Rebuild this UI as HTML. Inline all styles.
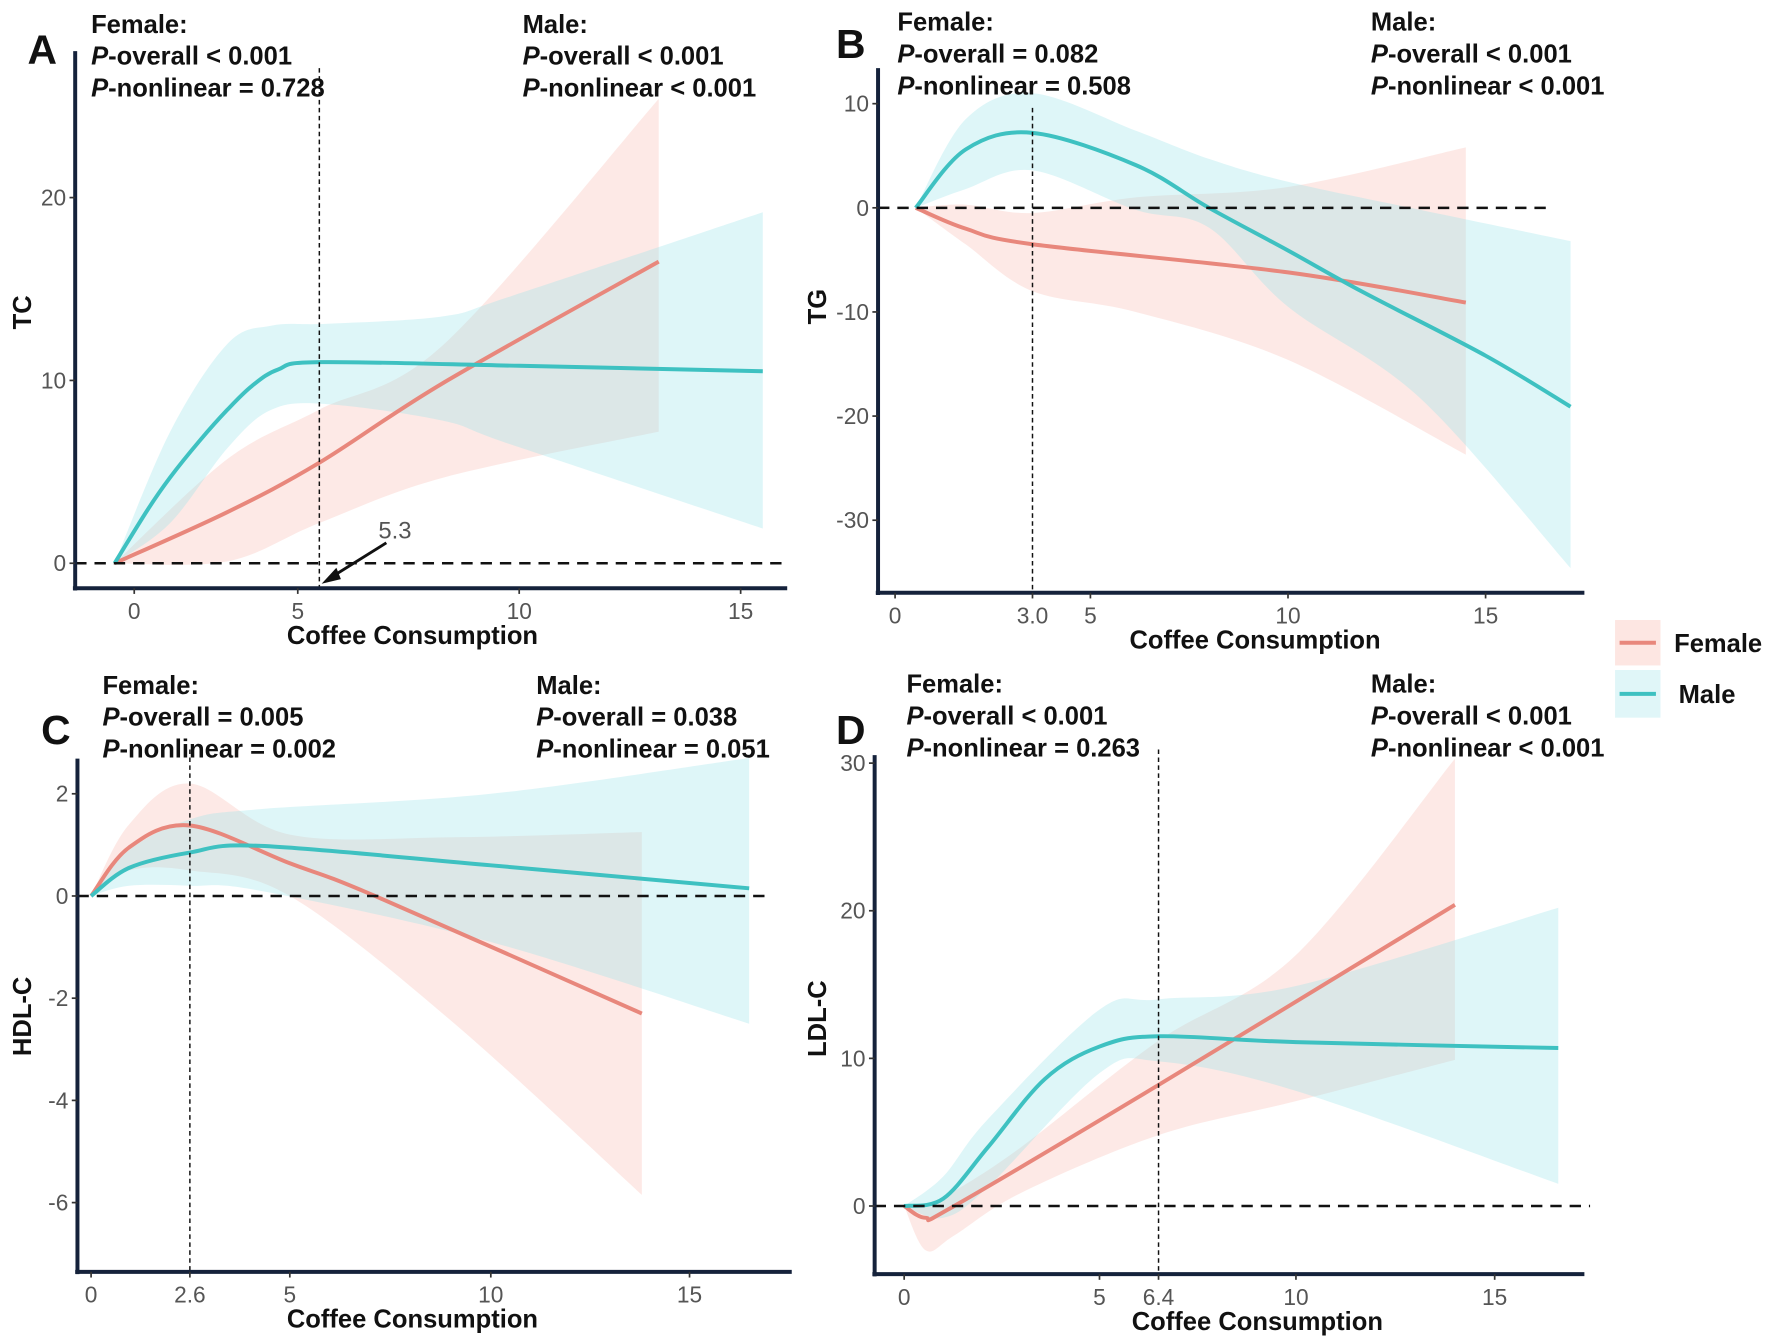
<!DOCTYPE html>
<html><head><meta charset="utf-8"><style>
html,body{margin:0;padding:0;background:#fff}
svg{display:block}
text{font-family:"Liberation Sans",Arial,sans-serif}
.t{font-weight:bold;font-size:22.5px;fill:#111}
.tick{font-size:20px;fill:#555}
</style></head><body>
<svg id="chart" width="1772" height="1340" viewBox="0 0 1560 1180" xmlns="http://www.w3.org/2000/svg"></svg>
<script>
// ---- Panel A (TC) ----
const aMaleX=[-0.6,0.4,1.1,2.0,2.85,3.6,4.4,5.3,10,15.5];
const aMaleY=[0,2.9,4.7,6.7,8.4,9.7,10.6,11.0,10.8,10.5];
const aMaleBandX=[-0.6,1.1,2.85,4.2,5.5,8.2,9.8,15.5];
const aMaleUp=[0,7.2,12.0,13.0,13.1,13.5,14.6,19.2];
const aMaleLo=[0,2.2,6.3,8.4,8.7,7.8,6.5,1.9];
const aFemX=[-0.6,2.85,5.3,8.24,13.15];
const aFemY=[0,2.8,5.5,9.9,16.5];
const aFemUp=[0,5.7,8.4,12,25.4];
const aFemLo=[0,0.1,2.2,4.7,7.2];
const aXTicks=[0,5,10,15];
const aYTicks=[0,10,20];
// ---- Panel B (TG) ----
const bMaleX=[0.45,1.54,3,6.15,8,10,11.9,15,17.15];
const bMaleY=[0,5.6,7.2,4.1,0,-4.1,-8.1,-14.2,-19.1];
const bMaleBandX=[0.45,1.54,3,6.15,8,10,13.35,17.15];
const bMaleUp=[0,8.5,11.0,7.4,4.7,2.5,-0.2,-3.2];
const bMaleLo=[0,1.8,3.6,-0.2,-1.9,-9.5,-18.3,-34.6];
const bFemX=[0.45,1.54,3,10,14.5];
const bFemY=[0,-2.0,-3.5,-6.2,-9.1];
const bFemBandX=[0.45,1.54,3,6.15,10,14.5];
const bFemUp=[0,0.3,-0.5,1.0,2.0,5.8];
const bFemLo=[0,-3.5,-8.0,-10,-14.6,-23.7];
const bXTicks=[0,3,5,10,15];
const bXTickLabels=["0","3.0","5","10","15"];
const bYTicks=[10,0,-10,-20,-30];
// ---- Panel C (HDL-C) ----
const cMaleX=[0,1,2.6,4.3,10,16.5];
const cMaleY=[0,0.55,0.85,0.98,0.6,0.15];
const cMaleUp=[0,0.9,1.5,1.7,2.0,2.7];
const cMaleLo=[0,0.2,0.2,0.1,-0.9,-2.5];
const cFemX=[0,1,2.6,5,7.12,13.8];
const cFemY=[0,0.95,1.38,0.64,0,-2.3];
const cFemBandX=[0,1,2.6,5,9.1,13.8];
const cFemUp=[0,1.4,2.2,1.2,1.15,1.25];
const cFemLo=[0,0.5,0.5,0,-2.5,-5.85];
const cXTicks=[0,2.6,5,10,15];
const cXTickLabels=["0","2.6","5","10","15"];
const cYTicks=[2,0,-2,-4,-6];
// ---- Panel D (LDL-C) ----
const dMaleX=[0,1,2.15,3.6,5,6.4,10,16.6];
const dMaleY=[0,0.5,4.0,8.6,10.8,11.5,11.1,10.7];
const dMaleBandX=[0,1,2.15,5,6.4,10,16.6];
const dMaleUp=[0,2,5.9,13.3,14.0,14.9,20.2];
const dMaleLo=[0,-0.8,1.3,9.0,9.8,7.8,1.5];
const dFemX=[0,0.55,1.28,6.4,14];
const dFemY=[0,-0.8,0,8.2,20.4];
const dFemBandX=[0,0.55,1.28,3,6.4,10,14];
const dFemUp=[0,0,1.0,4.0,11.2,17,30.3];
const dFemLo=[0,-3,-2.0,0.9,4.8,7.1,9.9];
const dXTicks=[0,5,6.4,10,15];
const dXTickLabels=["0","5","6.4","10","15"];
const dYTicks=[30,20,10,0];

const NS="http://www.w3.org/2000/svg";
const svg=document.getElementById('chart');
function el(tag,attrs,parent){const e=document.createElementNS(NS,tag);for(const k in attrs)e.setAttribute(k,attrs[k]);(parent||svg).appendChild(e);return e;}
function pw(knotsV,knotsP){return v=>{let n=knotsV.length;if(v<=knotsV[0])return knotsP[0]+(v-knotsV[0])*(knotsP[1]-knotsP[0])/(knotsV[1]-knotsV[0]);
 for(let i=0;i<n-1;i++){if(v<=knotsV[i+1])return knotsP[i]+(v-knotsV[i])*(knotsP[i+1]-knotsP[i])/(knotsV[i+1]-knotsV[i]);}
 return knotsP[n-2]+(v-knotsV[n-2])*(knotsP[n-1]-knotsP[n-2])/(knotsV[n-1]-knotsV[n-2]);};}
function lin(v0,p0,v1,p1){return v=>p0+(v-v0)*(p1-p0)/(v1-v0);}
function smooth(pts){let d="M"+pts[0][0]+","+pts[0][1];for(let i=0;i<pts.length-1;i++){const p0=pts[Math.max(i-1,0)],p1=pts[i],p2=pts[i+1],p3=pts[Math.min(i+2,pts.length-1)];
 const c1=[p1[0]+(p2[0]-p0[0])/6,p1[1]+(p2[1]-p0[1])/6],c2=[p2[0]-(p3[0]-p1[0])/6,p2[1]-(p3[1]-p1[1])/6];
 d+=" C"+c1[0]+","+c1[1]+" "+c2[0]+","+c2[1]+" "+p2[0]+","+p2[1];}return d;}
function band(g,xs,up,lo,sx,sy,fill,op,name){const u=xs.map((x,i)=>[sx(x),sy(up[i])]);const l=xs.map((x,i)=>[sx(x),sy(lo[i])]).reverse();
 let d=smooth(u)+" L"+l[0][0]+","+l[0][1]+smooth(l).replace(/^M[^C]*/," ")+" Z";
 const p=el('path',{d:d,fill:fill,'fill-opacity':op,stroke:'none'},g);
 
 }
function line(g,xs,ys,sx,sy,col,name){const p=el('path',{d:smooth(xs.map((x,i)=>[sx(x),sy(ys[i])])),fill:'none',stroke:col,'stroke-width':3.5},g);
 
 }
function txt(g,x,y,s,cls,extra){const t=el('text',Object.assign({x:x,y:y,class:cls},extra||{}),g);t.textContent=s;return t;}
function ptext(g,x,y,lines){lines.forEach((l,i)=>{const t=el('text',{x:x,y:y+i*28,class:'t'},g);
 if(l.startsWith('P-')){const ts=el('tspan',{'font-style':'italic'},t);ts.textContent='P';const r=el('tspan',{},t);r.textContent=l.slice(1);}else t.textContent=l;});}

function panel(cfg){
 const g=el('g',{});
 
 
 const {sx,sy}=cfg;
 band(g,cfg.fbx,cfg.fu,cfg.fl,sx,sy,'#f9a99d',0.25,'female-ci-band');
 band(g,cfg.mbx,cfg.mu,cfg.ml,sx,sy,'#9be4ea',0.33,'male-ci-band');
 line(g,cfg.fx,cfg.fy,sx,sy,'#e8877c','female-curve');
 line(g,cfg.mx,cfg.my,sx,sy,'#3ec1c1','male-curve');
 const z=el('line',{x1:cfg.ax,x2:cfg.zx2,y1:sy(0),y2:sy(0),stroke:'#111','stroke-width':2.2,'stroke-dasharray':'10,7'},g);
 
 
 const v=el('line',{x1:sx(cfg.vx),x2:sx(cfg.vx),y1:cfg.vy1,y2:cfg.by,stroke:'#111','stroke-width':1.3,'stroke-dasharray':'4,3'},g);
 
 
 const ya=el('line',{x1:cfg.ax,x2:cfg.ax,y1:cfg.ty,y2:cfg.by+2,stroke:'#15223b','stroke-width':3.5},g);
 
 
 const xa=el('line',{x1:cfg.ax-2,x2:cfg.rx,y1:cfg.by,y2:cfg.by,stroke:'#15223b','stroke-width':3.5},g);
 
 
 cfg.xt.forEach((t,i)=>{el('line',{x1:sx(t),x2:sx(t),y1:cfg.by,y2:cfg.by+5,stroke:'#333','stroke-width':1.5},g);
  const tt=txt(g,sx(t),cfg.by+27,cfg.xl?cfg.xl[i]:String(t),'tick',{'text-anchor':'middle'});
  
  });
 cfg.yt.forEach(t=>{el('line',{x1:cfg.ax-5,x2:cfg.ax,y1:sy(t),y2:sy(t),stroke:'#333','stroke-width':1.5},g);
  const tt=txt(g,cfg.ax-8,sy(t)+7,String(t),'tick',{'text-anchor':'end'});
  
  });
 const xl=txt(g,cfg.xlx,cfg.by+49,'Coffee Consumption','t',{'text-anchor':'middle'});
 
 
 const yl=txt(g,cfg.ylx,cfg.yly,cfg.ytitle,'t',{'text-anchor':'middle',transform:`rotate(-90 ${cfg.ylx} ${cfg.yly})`});
 
 
 const L=txt(g,cfg.Lx,cfg.Ly,cfg.letter,'t',{style:'font-size:36px'});
 
 
 ptext(g,cfg.fpx,cfg.py,['Female:',cfg.fp1,cfg.fp2]);
 ptext(g,cfg.mpx,cfg.py,['Male:',cfg.mp1,cfg.mp2]);
 return g;
}

panel({name:'panel-a-tc',sx:pw([0,5,5.3,10,15],[118,262,281,457,652]),sy:lin(0,496,10,335),
 fbx:aFemX,fu:aFemUp,fl:aFemLo,mbx:aMaleBandX,mu:aMaleUp,ml:aMaleLo,fx:aFemX,fy:aFemY,mx:aMaleX,my:aMaleY,
 ax:66,zx2:690,by:518,ty:45,rx:693,vx:5.3,vy1:60,xt:aXTicks,yt:aYTicks,xlx:363,ylx:27,yly:275,ytitle:'TC',
 letter:'A',Lx:24,Ly:56,fpx:80,mpx:460,py:29,fp1:'P-overall < 0.001',fp2:'P-nonlinear = 0.728',mp1:'P-overall < 0.001',mp2:'P-nonlinear < 0.001'});
panel({name:'panel-b-tg',sx:pw([0,3,5,10,15],[788,909,960,1134,1308]),sy:lin(0,183,10,91.3),
 fbx:bFemBandX,fu:bFemUp,fl:bFemLo,mbx:bMaleBandX,mu:bMaleUp,ml:bMaleLo,fx:bFemX,fy:bFemY,mx:bMaleX,my:bMaleY,
 ax:773,zx2:1367,by:522,ty:60,rx:1395,vx:3,vy1:95,xt:bXTicks,xl:bXTickLabels,yt:bYTicks,xlx:1105,ylx:727,yly:270,ytitle:'TG',
 letter:'B',Lx:736,Ly:51,fpx:790,mpx:1207,py:27,fp1:'P-overall = 0.082',fp2:'P-nonlinear = 0.508',mp1:'P-overall < 0.001',mp2:'P-nonlinear < 0.001'});
panel({name:'panel-c-hdl',sx:pw([0,2.6,5,10,15],[80,167,255,432,607]),sy:lin(0,789,2,699),
 fbx:cFemBandX,fu:cFemUp,fl:cFemLo,mbx:cMaleX,mu:cMaleUp,ml:cMaleLo,fx:cFemX,fy:cFemY,mx:cMaleX,my:cMaleY,
 ax:68,zx2:675,by:1120,ty:668,rx:697,vx:2.6,vy1:660,xt:cXTicks,xl:cXTickLabels,yt:cYTicks,xlx:363,ylx:27,yly:895,ytitle:'HDL-C',
 letter:'C',Lx:36,Ly:655,fpx:90,mpx:472,py:611,fp1:'P-overall = 0.005',fp2:'P-nonlinear = 0.002',mp1:'P-overall = 0.038',mp2:'P-nonlinear = 0.051'});
panel({name:'panel-d-ldl',sx:pw([0,5,6.4,10,15],[796,968,1020,1141,1316]),sy:lin(0,1062,10,932),
 fbx:dFemBandX,fu:dFemUp,fl:dFemLo,mbx:dMaleBandX,mu:dMaleUp,ml:dMaleLo,fx:dFemX,fy:dFemY,mx:dMaleX,my:dMaleY,
 ax:770,zx2:1400,by:1122,ty:665,rx:1395,vx:6.4,vy1:660,xt:dXTicks,xl:dXTickLabels,yt:dYTicks,xlx:1107,ylx:727,yly:897,ytitle:'LDL-C',
 letter:'D',Lx:736,Ly:655,fpx:798,mpx:1207,py:610,fp1:'P-overall < 0.001',fp2:'P-nonlinear = 0.263',mp1:'P-overall < 0.001',mp2:'P-nonlinear < 0.001'});

// annotation in panel A
const ann=el('g',{});


txt(ann,333,474,'5.3','tick',{style:'font-size:21px'});
el('line',{x1:340,y1:478,x2:292,y2:508,stroke:'#111','stroke-width':2.5},ann);
el('polygon',{points:'283,514 296,500 300,510',fill:'#111'},ann);

// legend
const lg=el('g',{});


const e1=el('g',{},lg);


el('rect',{x:1422,y:546,width:40,height:40,fill:'#fde6e2'},e1);
el('line',{x1:1426,x2:1458,y1:566,y2:566,stroke:'#e8877c','stroke-width':3.5},e1);
txt(e1,1474,574,'Female','t');
const e2=el('g',{},lg);


el('rect',{x:1422,y:590,width:40,height:42,fill:'#e0f6f8'},e2);
el('line',{x1:1426,x2:1458,y1:611,y2:611,stroke:'#3ec1c1','stroke-width':3.5},e2);
txt(e2,1478,619,'Male','t');
</script>
</body></html>
